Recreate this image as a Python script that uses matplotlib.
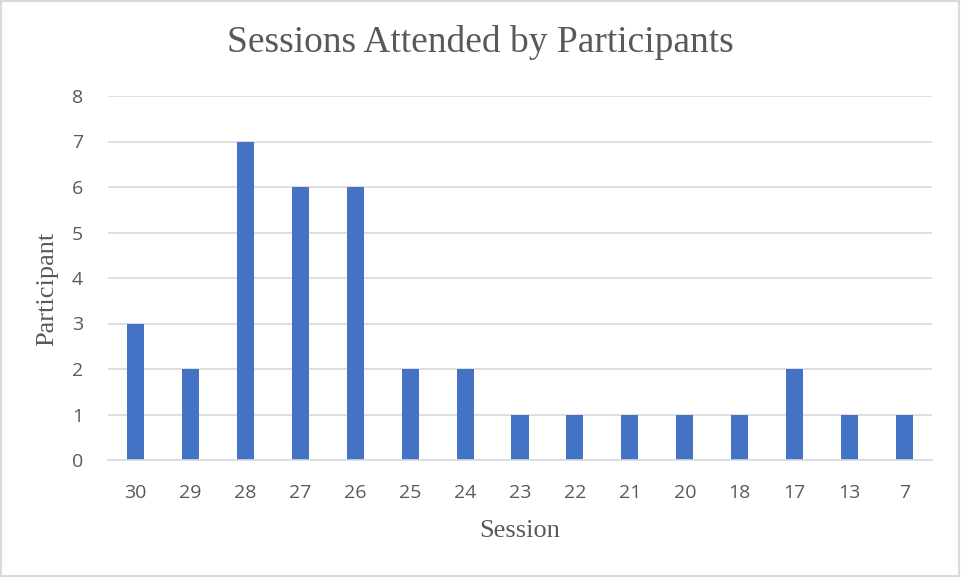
import numpy as np
import matplotlib.pyplot as plt
from matplotlib.patches import Rectangle

# data
sessions = ['30', '29', '28', '27', '26', '25', '24', '23', '22', '21', '20', '18', '17', '13', '7']
participants = [3, 2, 7, 6, 6, 2, 2, 1, 1, 1, 1, 1, 2, 1, 1]

bar_color = '#4472C4'
text_color = '#595959'
grid_color = '#D9D9D9'

fig = plt.figure(figsize=(9.61, 5.77), dpi=100)
ax = fig.add_axes([108 / 961, 1 - 460 / 577, (932 - 108) / 961, (460 - 96) / 577])

x = np.arange(len(sessions))
ax.bar(x, participants, width=0.31, color=bar_color, zorder=2)

ax.set_xlim(-0.5, len(sessions) - 0.5)
ax.set_ylim(0, 8)
ax.set_yticks(range(0, 9))
ax.set_xticks(x)
ax.set_xticklabels(sessions)

ax.grid(axis='y', color=grid_color, linewidth=1.2, zorder=0)
for side in ['top', 'right', 'left']:
    ax.spines[side].set_visible(False)
ax.spines['bottom'].set_color(grid_color)
ax.spines['bottom'].set_linewidth(1.2)
ax.tick_params(axis='both', length=0, colors=text_color, labelsize=14)
ax.tick_params(axis='x', pad=17)
ax.tick_params(axis='y', pad=18)
for lbl in ax.get_xticklabels() + ax.get_yticklabels():
    lbl.set_fontfamily('Open Sans')

ax.set_xlabel('Session', fontfamily='Liberation Serif', fontsize=19, color=text_color, labelpad=13)
ax.set_ylabel('Participant', fontfamily='Liberation Serif', fontsize=19, color=text_color)
ax.yaxis.set_label_coords(-0.06, 0.47)

fig.text(0.5, 1 - 43 / 577, 'Sessions Attended by Participants', ha='center', va='center',
         fontfamily='Liberation Serif', fontsize=27, color=text_color)

# light border around the chart
fig.patches.append(Rectangle((0.001, 0.002), 0.997, 0.996, transform=fig.transFigure,
                             fill=False, edgecolor='#D9D9D9', linewidth=1.5))

plt.savefig('out.png', dpi=100)
